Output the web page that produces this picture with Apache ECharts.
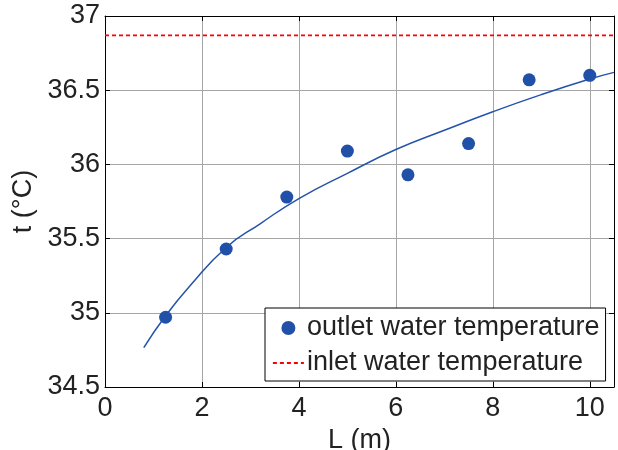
<!DOCTYPE html>
<html>
<head>
<meta charset="utf-8">
<script src="https://cdn.jsdelivr.net/npm/echarts@6/dist/echarts.min.js"></script>
<style>
  html, body { margin: 0; padding: 0; background: #fff; }
  #chart { width: 618px; height: 450px; }
</style>
</head>
<body>
<div id="chart"></div>
<script>
// measured outlet temperatures
const obsL = [1.25, 2.5, 3.75, 5.0, 6.25, 7.5, 8.75, 10.0]
const obsT = [34.97, 35.43, 35.78, 36.09, 35.93, 36.14, 36.57, 36.60]

// fitted curve
const fitL = [0.8, 1.25, 1.75, 2.5, 3.2, 4, 5, 6, 7, 8, 9, 10, 10.5]
const fitT = [34.765, 34.98, 35.18, 35.44, 35.6, 35.77, 35.94, 36.1, 36.23, 36.355, 36.47, 36.575, 36.62]

// inlet temperature (constant)
const inletL = [0, 10.5]
const inletT = [36.87, 36.87]

const font = '"Liberation Sans", Arial, sans-serif'
const textColor = '#222'

const chart = echarts.init(document.getElementById('chart'))

const boxAxis = {
  axisLine: { show: true, onZero: false, lineStyle: { color: '#000', width: 1 } },
  axisTick: { show: true, inside: true, length: 5, lineStyle: { color: '#000' } },
  axisLabel: { show: false },
  splitLine: { show: false },
}

chart.setOption({
  animation: false,
  textStyle: { fontFamily: font },
  grid: { left: 105, top: 16, right: 4, bottom: 63, outerBoundsMode: 'none' },
  legend: {
    orient: 'vertical',
    left: 265,
    top: 308,
    width: 343,
    padding: [5, 6, 3, 7],
    itemGap: 5,
    itemWidth: 31,
    itemHeight: 14,
    borderColor: '#000',
    borderWidth: 1,
    borderRadius: 0,
    backgroundColor: '#fff',
    textStyle: { fontSize: 27, color: textColor, lineHeight: 30, fontFamily: font, padding: [0, 0, 0, -2] },
    data: [
      { name: 'outlet water temperature', icon: 'circle' },
      {
        name: 'inlet water temperature',
        itemStyle: { color: 'rgba(0,0,0,0)', borderWidth: 0 },
        lineStyle: { color: '#ff0000', width: 1.8, type: [4, 3] },
      },
    ],
  },
  xAxis: [
    {
      type: 'value',
      min: 0,
      max: 10.5,
      interval: 2,
      name: 'L (m)',
      nameLocation: 'middle',
      nameGap: 36,
      nameTextStyle: { fontSize: 27, color: textColor, fontFamily: font },
      axisLine: { onZero: false, lineStyle: { color: '#000', width: 1 } },
      axisTick: { inside: true, length: 5, lineStyle: { color: '#000' } },
      axisLabel: { fontSize: 27, color: textColor, margin: 8, showMaxLabel: false, fontFamily: font },
      splitLine: { show: true, lineStyle: { color: '#a6a6a6', width: 1 } },
    },
    Object.assign({ type: 'value', min: 0, max: 10.5, interval: 2, position: 'top' }, boxAxis),
  ],
  yAxis: [
    {
      type: 'value',
      min: 34.5,
      max: 37,
      interval: 0.5,
      name: 't (°C)',
      nameLocation: 'middle',
      nameGap: 65,
      nameTextStyle: { fontSize: 27, color: textColor, fontFamily: font },
      axisLine: { show: true, onZero: false, lineStyle: { color: '#000', width: 1 } },
      axisTick: { show: true, inside: true, length: 5, lineStyle: { color: '#000' } },
      axisLabel: { fontSize: 27, color: textColor, margin: 5, fontFamily: font },
      splitLine: { show: true, lineStyle: { color: '#a6a6a6', width: 1 } },
    },
    Object.assign({ type: 'value', min: 34.5, max: 37, interval: 0.5, position: 'right' }, boxAxis),
  ],
  series: [
    {
      name: 'inlet water temperature',
      type: 'line',
      symbol: 'none',
      data: inletL.map((l, i) => [l, inletT[i]]),
      lineStyle: { color: '#ff0000', width: 1.8, type: [4, 3] },
      itemStyle: { color: '#ff0000' },
      z: 3,
    },
    {
      name: 'fit',
      type: 'line',
      smooth: true,
      symbol: 'none',
      data: fitL.map((l, i) => [l, fitT[i]]),
      lineStyle: { color: '#2453ad', width: 1.5 },
      z: 4,
    },
    {
      name: 'outlet water temperature',
      type: 'scatter',
      symbol: 'circle',
      symbolSize: 13,
      data: obsL.map((l, i) => [l, obsT[i]]),
      itemStyle: { color: '#2150a8', opacity: 1 },
      z: 5,
    },
  ],
})
</script>
</body>
</html>
